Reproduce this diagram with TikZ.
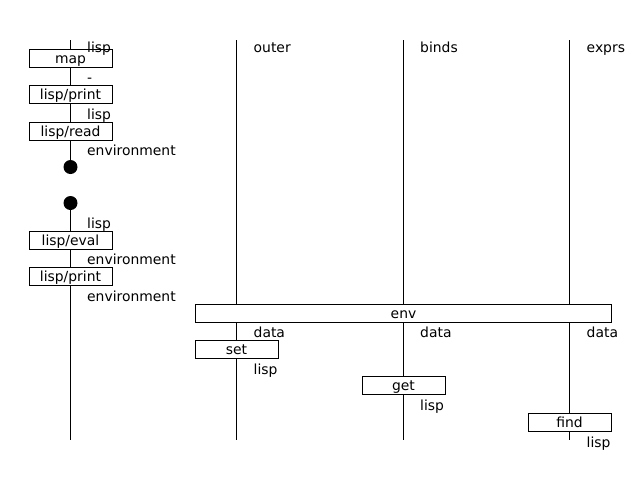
\documentclass[tikz,border=0pt]{standalone}
\usepackage{fontspec}
\setmainfont{DejaVu Sans}
\begin{document}
\begin{tikzpicture}[x=1pt,y=-1pt,
  font=\fontsize{13.9}{16}\selectfont,
  lane/.style={line width=1pt},
  opbox/.style={draw,line width=1pt,fill=white,minimum width=83pt,minimum height=18pt,inner sep=0pt,text height=12pt,text depth=1.5pt},
  lbl/.style={anchor=base west,inner sep=0pt},
  dot/.style={circle,fill=black,minimum size=14pt,inner sep=0pt}]
\useasboundingbox (0,0) rectangle (640,480);
% lane coordinates
\coordinate (a0) at (70.5,40); \coordinate (a1) at (70.5,440);
\coordinate (b0) at (236.5,40); \coordinate (b1) at (236.5,440);
\coordinate (c0) at (403.5,40); \coordinate (c1) at (403.5,440);
\coordinate (d0) at (569.5,40); \coordinate (d1) at (569.5,440);
\node[dot] (dot1) at (70.5,167) {};
\node[dot] (dot2) at (70.5,203) {};
\draw[lane] (a0) -- (dot1.center);
\draw[lane] (dot2.center) -- (a1);
\draw[lane] (b0) -- (b1);
\draw[lane] (c0) -- (c1);
\draw[lane] (d0) -- (d1);
% boxes
\node[opbox] (map) at (70.5,58.5) {map};
\node[opbox] (print1) at (70.5,94.5) {lisp/print};
\node[opbox] (read) at (70.5,131.5) {lisp/read};
\node[opbox] (eval) at (70.5,240.5) {lisp/eval};
\node[opbox] (print2) at (70.5,276.5) {lisp/print};
\node[opbox,minimum width=416pt] (env) at (403.5,313.5) {env};
\node[opbox] (set) at (236.5,349.5) {set};
\node[opbox] (get) at (403.5,385.5) {get};
\node[opbox] (find) at (569.5,422.5) {find};
% labels
\node[lbl] (l1) at (87,52) {lisp};
\node[lbl] (l2) at (87,82.5) {-};
\node[lbl] (l3) at (87,119) {lisp};
\node[lbl] (l4) at (87,155.5) {environment};
\node[lbl] (l5) at (87,228) {lisp};
\node[lbl] (l6) at (87,264.5) {environment};
\node[lbl] (l7) at (87,301) {environment};
\node[lbl] (t2) at (253.5,52) {outer};
\node[lbl] (t3) at (420,52) {binds};
\node[lbl] (t4) at (586.5,52) {exprs};
\node[lbl] (dd1) at (253.5,337.5) {data};
\node[lbl] (dd2) at (420,337.5) {data};
\node[lbl] (dd3) at (586.5,337.5) {data};
\node[lbl] (s1) at (253.5,374) {lisp};
\node[lbl] (s2) at (420,410.5) {lisp};
\node[lbl] (s3) at (586.5,447) {lisp};
\end{tikzpicture}
\end{document}
